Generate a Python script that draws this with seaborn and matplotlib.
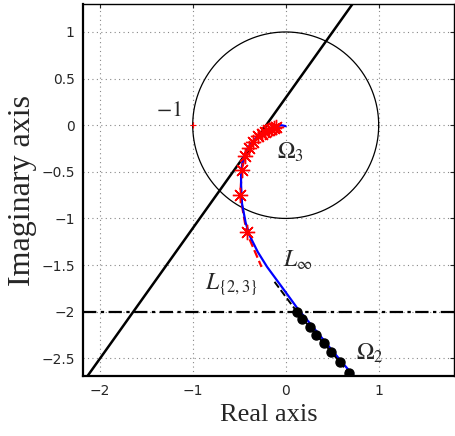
import numpy as np
import pandas as pd
import seaborn as sns
import matplotlib.pyplot as plt

# Nyquist-like curve (L_inf), blue
blue_re = [0.0, -0.05, -0.12, -0.20, -0.28, -0.36, -0.42, -0.46, -0.48, -0.48,
           -0.47, -0.43, -0.38, -0.30, -0.20, -0.06, 0.05, 0.13, 0.29, 0.47, 0.62, 0.76]
blue_im = [-0.01, 0.0, -0.02, -0.05, -0.10, -0.18, -0.26, -0.36, -0.50, -0.64,
           -0.84, -1.05, -1.20, -1.36, -1.52, -1.71, -1.86, -1.97, -2.16, -2.38, -2.56, -2.72]

# Omega_3 points, red stars
star_re = [-0.10, -0.13, -0.16, -0.19, -0.22, -0.26, -0.30, -0.35, -0.40, -0.44, -0.47, -0.49, -0.42]
star_im = [-0.02, -0.03, -0.04, -0.05, -0.07, -0.09, -0.12, -0.18, -0.24, -0.33, -0.48, -0.75, -1.15]
red_tail_re = [-0.26]
red_tail_im = [-1.52]

# Omega_2 points, black dots
dot_re = [0.12, 0.18, 0.26, 0.33, 0.41, 0.49, 0.58, 0.68]
dot_im = [-2.00, -2.08, -2.16, -2.25, -2.34, -2.43, -2.54, -2.66]
dash_re = [-0.12] + dot_re
dash_im = [-1.68] + dot_im

# straight line through (-0.21, 0) with slope 1.4
line_x0 = -0.21
line_slope = 1.4

xticks = [-2, -1, 0, 1]
yticks = [-2.5, -2, -1.5, -1, -0.5, 0, 0.5, 1]

sns.set_style("white")
plt.rcParams['mathtext.fontset'] = 'stix'

fig = plt.figure(figsize=(4.55, 4.36), dpi=100)
ax = fig.add_axes([83/455, 60/436, 371/455, 372/436])

ax.grid(True, linestyle=(0, (1, 3)), color='#888888', linewidth=0.8)

# unit circle
t = np.linspace(0, 2*np.pi, 400)
circ = pd.DataFrame({"re": np.cos(t), "im": np.sin(t)})
sns.lineplot(data=circ, x="re", y="im", sort=False, estimator=None, color='black', linewidth=0.9, ax=ax)

# straight line
lx = np.array([-2.3, 1.0])
sns.lineplot(x=lx, y=line_slope*(lx - line_x0), sort=False, estimator=None, color='black', linewidth=1.8, ax=ax)

# horizontal dash-dot at -2
ax.axhline(-2, color='black', linewidth=1.6, linestyle=(0, (6, 2, 1.5, 2)))

# red dashed + stars
sns.lineplot(x=star_re + red_tail_re, y=star_im + red_tail_im, sort=False, estimator=None,
             color='red', linewidth=1.6, linestyle='--', ax=ax)
# blue curve
sns.lineplot(x=blue_re, y=blue_im, sort=False, estimator=None, color='blue', linewidth=1.6, ax=ax)
ax.plot(star_re, star_im, linestyle='none', marker=(8, 2, 0), color='red', markersize=11, markeredgewidth=1.0)

# black dashed + dots
sns.lineplot(x=dash_re, y=dash_im, sort=False, estimator=None, color='black', linewidth=1.4, linestyle='--', ax=ax)
ax.plot(dot_re, dot_im, linestyle='none', marker='o', color='black', markersize=6.5)

# -1 point
ax.plot([-1], [0], marker='+', color='red', markersize=5, markeredgewidth=0.8)

ax.text(-1.25, 0.16, r'$-1$', fontsize=16, ha='center', va='center')
ax.text(0.05, -0.29, r'$\Omega_3$', fontsize=17, ha='center', va='center')
ax.text(0.13, -1.45, r'$L_\infty$', fontsize=17, ha='center', va='center')
ax.text(-0.59, -1.70, r'$L_{\{2,3\}}$', fontsize=17, ha='center', va='center')
ax.text(0.91, -2.44, r'$\Omega_2$', fontsize=17, ha='center', va='center')

ax.set_xlim(-2.18, 1.81)
ax.set_ylim(-2.69, 1.30)
ax.set_xticks(xticks)
ax.set_yticks(yticks)
ax.set_xticklabels([str(v).replace('-', '\u2212') for v in xticks])
ax.set_yticklabels([(str(v) if v != int(v) else str(int(v))).replace('-', '\u2212') for v in yticks])
ax.tick_params(direction='in', length=3, width=0.8, top=True, right=True, labelsize=10, pad=6)

for s in ['left', 'bottom']:
    ax.spines[s].set_linewidth(1.6)
for s in ['top', 'right']:
    ax.spines[s].set_linewidth(1.0)
for s in ax.spines.values():
    s.set_color('black')

ax.set_xlabel('Real axis', fontsize=19, family='Liberation Serif', labelpad=4)
ax.set_ylabel('Imaginary axis', fontsize=23, family='Liberation Serif', labelpad=3)

fig.savefig('out.png', dpi=100)
